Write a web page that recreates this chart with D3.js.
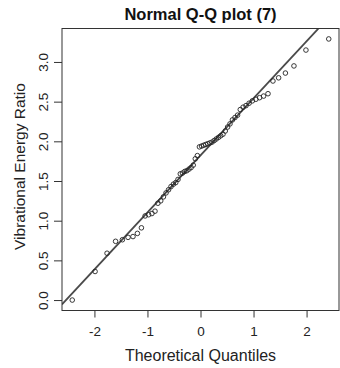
<!DOCTYPE html>
<html><head><meta charset="utf-8">
<script src="https://cdn.jsdelivr.net/npm/d3@7"></script>
<style>
html,body{margin:0;padding:0;background:#fff;}
svg{display:block;font-family:"Liberation Sans",Arial,sans-serif;}
</style></head>
<body><svg id="c" width="340" height="368"></svg>
<script>
// Theoretical normal quantiles for n = 64 (ppoints), listed
const theoretical = [-2.418,-1.988,-1.762,-1.601,-1.473,-1.366,-1.273,-1.190,-1.114,-1.044,-0.978,-0.916,-0.858,-0.803,-0.750,-0.699,-0.650,-0.602,-0.556,-0.511,-0.467,-0.424,-0.381,-0.340,-0.298,-0.258,-0.217,-0.177,-0.137,-0.098,-0.059,-0.020,
 0.020,0.059,0.098,0.137,0.177,0.217,0.258,0.298,0.340,0.381,0.424,0.467,0.511,0.556,0.602,0.650,0.699,0.750,0.803,0.858,0.916,0.978,1.044,1.114,1.190,1.273,1.366,1.473,1.601,1.762,1.988,2.418];
// Sorted sample values (Vibrational Energy Ratio)
const sample = [0.00,0.36,0.59,0.74,0.76,0.79,0.80,0.84,0.91,1.06,1.075,1.09,1.12,1.22,1.25,1.30,1.35,1.39,1.43,1.46,1.48,1.52,1.59,1.60,1.62,1.63,1.65,1.67,1.70,1.78,1.82,1.93,
 1.94,1.95,1.96,1.97,1.98,1.99,2.01,2.03,2.05,2.07,2.09,2.13,2.18,2.22,2.27,2.30,2.33,2.40,2.43,2.45,2.48,2.51,2.53,2.55,2.57,2.60,2.76,2.80,2.86,2.95,3.15,3.29];
const xTicks = [-2,-1,0,1,2];
const yTicks = [0.0,0.5,1.0,1.5,2.0,2.5,3.0];
const title = "Normal Q-Q plot (7)";
const xLabel = "Theoretical Quantiles";
const yLabel = "Vibrational Energy Ratio";

const L=62, R=339, T=28.5, B=310.5;
const pad = e => { const d=(e[1]-e[0])*0.04; return [e[0]-d, e[1]+d]; };
const x = d3.scaleLinear().domain(pad(d3.extent(theoretical))).range([L,R]);
const y = d3.scaleLinear().domain(pad(d3.extent(sample))).range([B,T]);

const svg = d3.select("#c");
const ink = "#222";

// qqline through quartiles
const q1 = d3.quantile(sample,0.25), q3 = d3.quantile(sample,0.75);
const z = 0.6744898;
const slope = (q3-q1)/(2*z), icpt = q1 + z*slope;
svg.append("clipPath").attr("id","pc").append("rect")
  .attr("x",L).attr("y",T).attr("width",R-L).attr("height",B-T);
const xd = x.domain();
svg.append("line").attr("clip-path","url(#pc)")
  .attr("x1",x(xd[0])).attr("y1",y(icpt+slope*xd[0]))
  .attr("x2",x(xd[1])).attr("y2",y(icpt+slope*xd[1]))
  .attr("stroke","#4a4a4a").attr("stroke-width",1.8);

// points
svg.append("g").selectAll("circle").data(sample).join("circle")
  .attr("cx",(d,i)=>x(theoretical[i])).attr("cy",d=>y(d)).attr("r",2.3)
  .attr("fill","none").attr("stroke",ink).attr("stroke-width",0.9);

// box
svg.append("rect").attr("x",L).attr("y",T).attr("width",R-L).attr("height",B-T)
  .attr("fill","none").attr("stroke","#333").attr("stroke-width",1);

// x axis
const gx = svg.append("g").attr("transform",`translate(0,${B})`)
  .call(d3.axisBottom(x).tickValues(xTicks).tickSize(7).tickPadding(8.5).tickFormat(d3.format("d")));
gx.select(".domain").remove();
gx.selectAll("line").attr("stroke","#333");
gx.selectAll("text").attr("font-size",13.5).attr("fill","#222")
  .attr("font-family","'Liberation Sans',Arial,sans-serif").text(d=>d<0?"-"+Math.abs(d):d);

// y axis
const gy = svg.append("g").attr("transform",`translate(${L},0)`)
  .call(d3.axisLeft(y).tickValues(yTicks).tickSize(8).tickFormat(d3.format(".1f")));
gy.select(".domain").remove();
gy.selectAll("line").attr("stroke","#333");
gy.selectAll("text").attr("font-size",13.5).attr("fill","#222")
  .attr("font-family","'Liberation Sans',Arial,sans-serif")
  .attr("x",null).attr("dy",null).attr("text-anchor","middle")
  .attr("transform","translate(-14.5,0) rotate(-90)");

// title and labels
svg.append("text").attr("x",(L+R)/2).attr("y",20).attr("text-anchor","middle")
  .attr("font-weight","bold").attr("font-size",16.5).attr("fill","#111").text(title);
svg.append("text").attr("x",(L+R)/2).attr("y",361).attr("text-anchor","middle")
  .attr("font-size",16).attr("fill","#222").text(xLabel);
svg.append("text").attr("transform",`translate(25,166.5) rotate(-90)`).attr("text-anchor","middle")
  .attr("font-size",15.5).attr("fill","#222").text(yLabel);
</script></body></html>
